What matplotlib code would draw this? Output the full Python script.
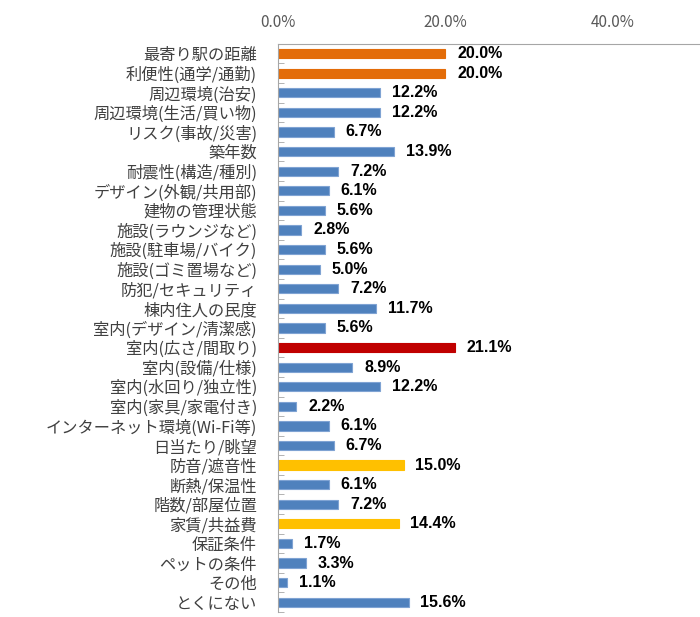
import matplotlib
matplotlib.use("Agg")
import matplotlib.pyplot as plt
from matplotlib.ticker import FuncFormatter, FixedLocator

plt.rcParams['font.family'] = ['Noto Sans CJK JP', 'DejaVu Sans']

# 項目と割合(%)
categories = [
    "最寄り駅の距離", "利便性(通学/通勤)", "周辺環境(治安)", "周辺環境(生活/買い物)",
    "リスク(事故/災害)", "築年数", "耐震性(構造/種別)", "デザイン(外観/共用部)",
    "建物の管理状態", "施設(ラウンジなど)", "施設(駐車場/バイク)", "施設(ゴミ置場など)",
    "防犯/セキュリティ", "棟内住人の民度", "室内(デザイン/清潔感)", "室内(広さ/間取り)",
    "室内(設備/仕様)", "室内(水回り/独立性)", "室内(家具/家電付き)",
    "インターネット環境(Wi-Fi等)", "日当たり/眺望", "防音/遮音性", "断熱/保温性",
    "階数/部屋位置", "家賃/共益費", "保証条件", "ペットの条件", "その他", "とくにない",
]
values = [
    20.0, 20.0, 12.2, 12.2, 6.7, 13.9, 7.2, 6.1, 5.6, 2.8, 5.6, 5.0, 7.2, 11.7,
    5.6, 21.1, 8.9, 12.2, 2.2, 6.1, 6.7, 15.0, 6.1, 7.2, 14.4, 1.7, 3.3, 1.1, 15.6,
]
# 強調する項目
highlight = {
    "最寄り駅の距離": "#E36C09",
    "利便性(通学/通勤)": "#E36C09",
    "室内(広さ/間取り)": "#C00000",
    "防音/遮音性": "#FFC000",
    "家賃/共益費": "#FFC000",
}
xticks = [0, 20, 40]

colors = [highlight.get(c, "#4F81BD") for c in categories]
edges = [highlight.get(c, "#7FA3D3") for c in categories]

fig = plt.figure(figsize=(7, 6.17), dpi=100)
ax = fig.add_axes([0.397, 0.008, 0.602, 0.921])

y = list(range(len(categories)))
ax.barh(y, values, height=0.47, color=colors, edgecolor=edges, linewidth=0.8)

for yi, v in zip(y, values):
    ax.text(v + 1.4, yi, f"{v:.1f}%", va="center", ha="left",
            fontsize=11.5, fontweight="bold", color="black",
            family=["Liberation Sans", "DejaVu Sans"])

ax.set_xlim(0, 50.3)
ax.set_ylim(len(categories) - 0.5, -0.5)
ax.xaxis.tick_top()
ax.xaxis.set_major_locator(FixedLocator(xticks))
ax.xaxis.set_major_formatter(FuncFormatter(lambda v, p: f"{v:.1f}%"))
ax.tick_params(axis="x", length=0, pad=9, labelsize=11, labelcolor="#595959")

ax.set_yticks(y)
ax.set_yticklabels(categories, fontsize=11.7, color="#404040")
ax.set_yticks([i - 0.5 for i in range(len(categories) + 1)], minor=True)
ax.tick_params(axis="y", which="major", length=0, pad=15)
ax.tick_params(axis="y", which="minor", direction="in", length=4, color="#A6A6A6")

for s in ["right", "bottom"]:
    ax.spines[s].set_visible(False)
for s in ["top", "left"]:
    ax.spines[s].set_color("#A6A6A6")
    ax.spines[s].set_linewidth(0.8)

fig.savefig("out.png", dpi=100)
